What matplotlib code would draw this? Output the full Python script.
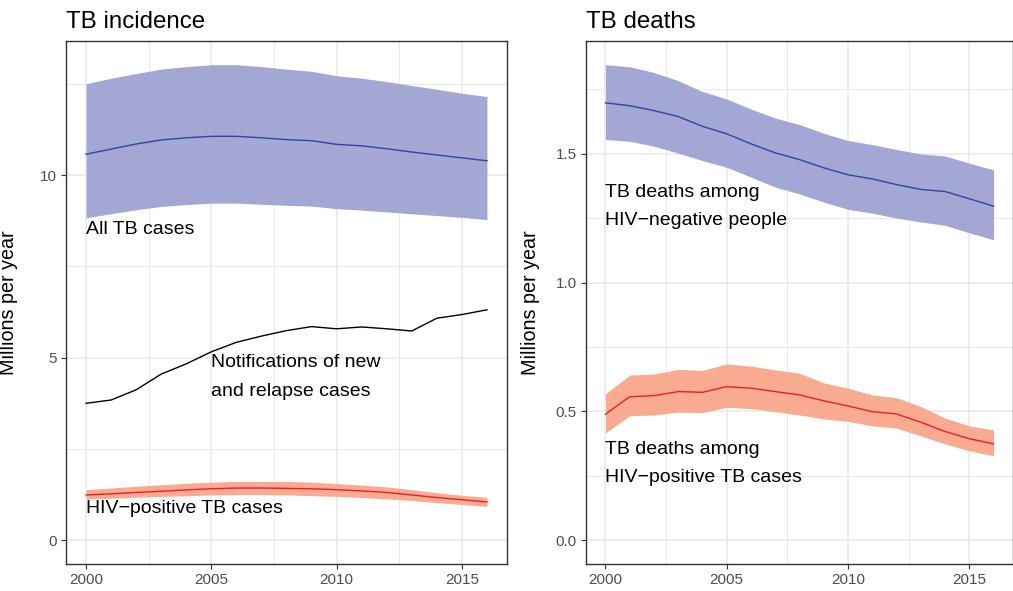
import matplotlib
matplotlib.use("Agg")
import matplotlib.pyplot as plt
import numpy as np

plt.rcParams['font.family'] = ['Liberation Sans', 'DejaVu Sans']

years = list(range(2000, 2017))

# TB incidence (millions)
inc_all = [10.57, 10.71, 10.85, 10.96, 11.02, 11.06, 11.06, 11.02, 10.97, 10.94,
           10.84, 10.80, 10.72, 10.63, 10.55, 10.47, 10.39]
inc_all_hi = [12.50, 12.65, 12.78, 12.90, 12.97, 13.02, 13.02, 12.97, 12.90, 12.84,
              12.72, 12.65, 12.56, 12.45, 12.35, 12.24, 12.15]
inc_all_lo = [8.83, 8.94, 9.05, 9.14, 9.19, 9.23, 9.23, 9.20, 9.17, 9.15,
              9.08, 9.04, 8.99, 8.94, 8.89, 8.84, 8.78]
notif = [3.75, 3.84, 4.12, 4.55, 4.83, 5.16, 5.42, 5.59, 5.74, 5.85,
         5.79, 5.84, 5.79, 5.73, 6.08, 6.18, 6.31]
inc_hiv = [1.24, 1.27, 1.31, 1.34, 1.38, 1.41, 1.43, 1.43, 1.42, 1.41,
           1.385, 1.35, 1.31, 1.24, 1.17, 1.11, 1.05]
inc_hiv_hi = [1.385, 1.43, 1.48, 1.52, 1.56, 1.59, 1.61, 1.61, 1.61, 1.59,
              1.55, 1.51, 1.46, 1.385, 1.30, 1.23, 1.175]
inc_hiv_lo = [1.13, 1.15, 1.18, 1.20, 1.22, 1.24, 1.25, 1.25, 1.24, 1.22,
              1.20, 1.17, 1.13, 1.09, 1.03, 0.98, 0.93]

# TB deaths (millions)
dth_neg = [1.697, 1.686, 1.667, 1.644, 1.606, 1.577, 1.538, 1.503, 1.477, 1.445,
           1.418, 1.402, 1.380, 1.361, 1.353, 1.325, 1.296]
dth_neg_hi = [1.845, 1.837, 1.815, 1.783, 1.741, 1.712, 1.673, 1.638, 1.613, 1.579,
              1.551, 1.535, 1.516, 1.499, 1.491, 1.463, 1.437]
dth_neg_lo = [1.555, 1.548, 1.529, 1.502, 1.473, 1.447, 1.409, 1.370, 1.344, 1.312,
              1.284, 1.269, 1.250, 1.235, 1.222, 1.193, 1.166]
dth_pos = [0.489, 0.557, 0.561, 0.577, 0.574, 0.596, 0.590, 0.577, 0.564, 0.541,
           0.521, 0.499, 0.490, 0.458, 0.422, 0.394, 0.374]
dth_pos_hi = [0.568, 0.641, 0.645, 0.663, 0.659, 0.684, 0.676, 0.661, 0.648, 0.611,
              0.590, 0.564, 0.553, 0.519, 0.474, 0.444, 0.428]
dth_pos_lo = [0.416, 0.483, 0.486, 0.497, 0.495, 0.516, 0.511, 0.499, 0.486, 0.471,
              0.461, 0.444, 0.435, 0.405, 0.374, 0.347, 0.328]

blue_fill = '#A2A7D4'
blue_line = '#2E45A0'
red_fill = '#F9AB92'
red_line = '#EE1C25'


def style_axes(ax, yticks, yminor, ylim, ylabel_x):
    ax.set_xlim(1999.2, 2016.8)
    ax.set_ylim(*ylim)
    ax.set_xticks([2000, 2005, 2010, 2015])
    ax.set_xticks([2002.5, 2007.5, 2012.5], minor=True)
    ax.set_yticks(yticks)
    ax.set_yticks(yminor, minor=True)
    ax.grid(which='major', color='#E8E8E8', lw=1.1, zorder=0)
    ax.grid(which='minor', color='#E8E8E8', lw=0.7, zorder=0)
    ax.set_axisbelow(True)
    ax.tick_params(which='major', length=3.5, width=0.8, color='#333333',
                   labelsize=11, labelcolor='#4D4D4D', pad=3)
    ax.tick_params(which='minor', length=0)
    for s in ax.spines.values():
        s.set_color('#333333')
        s.set_linewidth(1.0)
    ax.set_ylabel('Millions per year', fontsize=14.2)
    ax.yaxis.set_label_coords(ylabel_x, 0.5)


fig = plt.figure(figsize=(10.13, 5.91), dpi=100)
ax1 = fig.add_axes([66 / 1013, 27 / 591, 441 / 1013, 523 / 591])
ax2 = fig.add_axes([586 / 1013, 27 / 591, 427 / 1013, 523 / 591])

# left panel
ax1.fill_between(years, inc_all_lo, inc_all_hi, color=blue_fill, lw=0, zorder=2)
ax1.plot(years, inc_all, color=blue_line, lw=1.0, zorder=3)
ax1.fill_between(years, inc_hiv_lo, inc_hiv_hi, color=red_fill, lw=0, zorder=2)
ax1.plot(years, inc_hiv, color=red_line, lw=1.0, zorder=3)
ax1.plot(years, notif, color='black', lw=1.0, zorder=3)
ax1.text(2000, 8.5, 'All TB cases', fontsize=14, va='center', ha='left')
ax1.text(2005, 4.48, 'Notifications of new\nand relapse cases', fontsize=14,
         va='center', ha='left', linespacing=1.94)
ax1.text(2000, 0.88, 'HIV\u2212positive TB cases', fontsize=14, va='center', ha='left')
style_axes(ax1, [0, 5, 10], [2.5, 7.5, 12.5], (-0.65, 13.67), -0.109)
ax1.set_title('TB incidence', loc='left', fontsize=17.4, pad=9)

# right panel
ax2.fill_between(years, dth_neg_lo, dth_neg_hi, color=blue_fill, lw=0, zorder=2)
ax2.plot(years, dth_neg, color=blue_line, lw=1.0, zorder=3)
ax2.fill_between(years, dth_pos_lo, dth_pos_hi, color=red_fill, lw=0, zorder=2)
ax2.plot(years, dth_pos, color=red_line, lw=1.0, zorder=3)
ax2.text(2000, 1.296, 'TB deaths among\nHIV\u2212negative people', fontsize=14,
         va='center', ha='left', linespacing=1.86)
ax2.text(2000, 0.298, 'TB deaths among\nHIV\u2212positive TB cases', fontsize=14,
         va='center', ha='left', linespacing=1.86)
style_axes(ax2, [0.0, 0.5, 1.0, 1.5], [0.25, 0.75, 1.25, 1.75], (-0.092, 1.937), -0.108)
ax2.set_yticklabels(['0.0', '0.5', '1.0', '1.5'])
ax2.set_title('TB deaths', loc='left', fontsize=17.4, pad=9)

fig.savefig('out.png', dpi=100)
